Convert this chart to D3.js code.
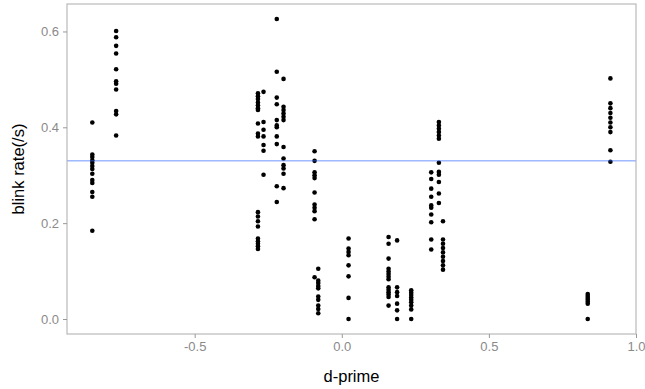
<!DOCTYPE html>
<html>
<head>
<meta charset="utf-8">
<script src="https://cdn.jsdelivr.net/npm/d3@7"></script>
<style>
  html, body { margin: 0; padding: 0; background: #fff; }
  svg { display: block; font-family: "Liberation Sans", Arial, sans-serif; }
</style>
</head>
<body>
<svg id="chart" width="645" height="389"></svg>
<script>
// ---- data ----
const colX = [-0.848, -0.767, -0.285, -0.266, -0.221, -0.198, -0.0925, -0.08, 0.023, 0.159, 0.188, 0.236, 0.304, 0.330, 0.344, 0.836, 0.913];
const colY = [
  [0.410, 0.343, 0.338, 0.331, 0.326, 0.319, 0.313, 0.303, 0.290, 0.284, 0.265, 0.255, 0.184],
  [0.601, 0.588, 0.570, 0.554, 0.521, 0.496, 0.491, 0.479, 0.434, 0.427, 0.383],
  [0.471, 0.465, 0.459, 0.452, 0.446, 0.440, 0.436, 0.408, 0.387, 0.381, 0.223, 0.214, 0.204, 0.193, 0.168, 0.162, 0.157, 0.152, 0.146],
  [0.474, 0.411, 0.395, 0.381, 0.363, 0.351, 0.301],
  [0.626, 0.516, 0.462, 0.448, 0.415, 0.404, 0.400, 0.381, 0.365, 0.277, 0.244],
  [0.501, 0.443, 0.436, 0.429, 0.422, 0.415, 0.359, 0.335, 0.321, 0.314, 0.303, 0.273],
  [0.350, 0.330, 0.306, 0.300, 0.294, 0.264, 0.239, 0.232, 0.225, 0.208, 0.087],
  [0.105, 0.080, 0.075, 0.069, 0.064, 0.047, 0.040, 0.028, 0.021, 0.012],
  [0.168, 0.147, 0.140, 0.133, 0.112, 0.089, 0.044, 0.000],
  [0.171, 0.157, 0.126, 0.105, 0.099, 0.094, 0.088, 0.083, 0.066, 0.061, 0.056, 0.051, 0.046, 0.028],
  [0.164, 0.066, 0.056, 0.048, 0.032, 0.018, 0.000],
  [0.060, 0.055, 0.050, 0.045, 0.040, 0.035, 0.028, 0.020, 0.000],
  [0.306, 0.292, 0.272, 0.255, 0.237, 0.232, 0.218, 0.202, 0.166, 0.145],
  [0.411, 0.404, 0.397, 0.390, 0.383, 0.376, 0.326, 0.307, 0.301, 0.286, 0.262, 0.242],
  [0.204, 0.166, 0.157, 0.148, 0.139, 0.130, 0.121, 0.112, 0.103],
  [0.052, 0.048, 0.044, 0.040, 0.036, 0.032, 0.000],
  [0.502, 0.450, 0.440, 0.430, 0.420, 0.410, 0.400, 0.390, 0.352, 0.328]
];
const meanLine = 0.33;
const xTicks = [-0.5, 0.0, 0.5, 1.0];
const yTicks = [0.0, 0.2, 0.4, 0.6];

const points = [];
colX.forEach((x, i) => colY[i].forEach(y => points.push({x, y})));

// ---- layout ----
const svg = d3.select("#chart");
const L = 67, R = 636, T = 4, B = 334;

const x = d3.scaleLinear().domain([-0.934, 1.0]).range([L, R]);
const y = d3.scaleLinear().domain([-0.0313, 0.6573]).range([B, T]);

svg.append("rect").attr("x", 0).attr("y", 0).attr("width", 645).attr("height", 389).attr("fill", "#fff");

// points
svg.append("g").selectAll("circle").data(points).join("circle")
  .attr("cx", d => x(d.x)).attr("cy", d => y(d.y)).attr("r", 2.3).attr("fill", "#000");

// horizontal reference line
svg.append("line")
  .attr("x1", L).attr("x2", R).attr("y1", y(meanLine)).attr("y2", y(meanLine))
  .attr("stroke", "#3366FF").attr("stroke-width", 1).attr("stroke-opacity", 0.7);

// panel border
svg.append("rect").attr("x", L).attr("y", T).attr("width", R - L).attr("height", B - T)
  .attr("fill", "none").attr("stroke", "#b3b3b3").attr("stroke-width", 1.1);

// axes
const fmt = v => d3.format(".1f")(v).replace("\u2212", "-");
const xAxis = svg.append("g").attr("transform", `translate(0,${B})`)
  .call(d3.axisBottom(x).tickValues(xTicks).tickFormat(fmt).tickSize(4).tickPadding(4));
const yAxis = svg.append("g").attr("transform", `translate(${L},0)`)
  .call(d3.axisLeft(y).tickValues(yTicks).tickFormat(fmt).tickSize(4).tickPadding(4));
[xAxis, yAxis].forEach(g => {
  g.select(".domain").remove();
  g.selectAll(".tick line").attr("stroke", "#999");
  g.selectAll(".tick text").attr("fill", "#8a8a8a").style("font-size", "13px")
    .style("font-family", "'Liberation Sans', Arial, sans-serif");
});

// axis titles
svg.append("text").attr("x", (L + R) / 2).attr("y", 382).attr("text-anchor", "middle")
  .style("font-size", "16.5px").attr("fill", "#000").text("d-prime");
svg.append("text").attr("transform", `translate(24,${(T + B) / 2}) rotate(-90)`)
  .attr("text-anchor", "middle").style("font-size", "16.5px").attr("fill", "#000").text("blink rate(/s)");
</script>
</body>
</html>
